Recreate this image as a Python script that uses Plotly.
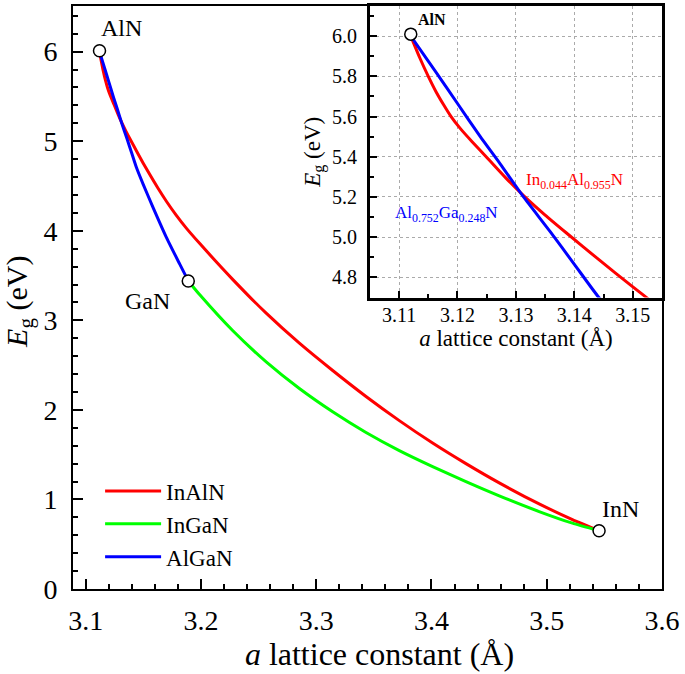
import plotly.graph_objects as go

# ---------------- data ----------------
# InAlN  (lattice constant a in Å, band gap Eg in eV)
inaln_a = [3.1120, 3.1135, 3.1150, 3.1163, 3.1176, 3.1189, 3.1205, 3.1225, 3.1253,
           3.1283, 3.1313, 3.1350, 3.1386, 3.1442, 3.1499, 3.1555, 3.1625, 3.1700,
           3.1785, 3.1873, 3.1988, 3.2277, 3.2566, 3.2854, 3.3143, 3.3432, 3.3721,
           3.4010, 3.4299, 3.4588, 3.4934, 3.5223, 3.5454]
inaln_eg = [6.000, 5.895, 5.800, 5.725, 5.660, 5.600, 5.540, 5.475, 5.388,
            5.294, 5.207, 5.110, 5.022, 4.888, 4.755, 4.630, 4.480, 4.330,
            4.175, 4.030, 3.860, 3.455, 3.080, 2.745, 2.440, 2.150, 1.880,
            1.630, 1.400, 1.185, 0.950, 0.775, 0.650]

# InGaN
ingan_a = [3.189, 3.1988, 3.2277, 3.2566, 3.2854, 3.3143, 3.3432, 3.3721, 3.4010,
           3.4299, 3.4588, 3.4934, 3.5223, 3.5454]
ingan_eg = [3.44, 3.288, 2.883, 2.536, 2.239, 1.979, 1.748, 1.546, 1.367,
            1.199, 1.040, 0.865, 0.735, 0.65]

# AlGaN
algan_a = [3.112, 3.1161, 3.120, 3.1239, 3.1273, 3.1313, 3.1358, 3.140, 3.1442,
           3.150, 3.1583, 3.1699, 3.1815, 3.189]
algan_eg = [6.00, 5.83, 5.665, 5.50, 5.365, 5.20, 5.03, 4.865, 4.70,
            4.515, 4.265, 3.93, 3.63, 3.44]

# binary end points
bin_names = ["AlN", "GaN", "InN"]
bin_a = [3.112, 3.189, 3.5454]
bin_eg = [6.01, 3.44, 0.65]

# tick values
main_x_ticks = [3.1, 3.2, 3.3, 3.4, 3.5, 3.6]
main_y_ticks = [0, 1, 2, 3, 4, 5, 6]
inset_x_ticks = [3.11, 3.12, 3.13, 3.14, 3.15]
inset_y_ticks = [4.8, 5.0, 5.2, 5.4, 5.6, 5.8, 6.0]

RED = "#ff0000"
GREEN = "#00ff00"
BLUE = "#0000ff"
FONT = "Liberation Serif, Times New Roman, DejaVu Serif, serif"

LINE = dict(width=3, shape="spline", smoothing=0.5)

fig = go.Figure()

# main curves
fig.add_trace(go.Scatter(x=inaln_a, y=inaln_eg, mode="lines", name="InAlN",
                         line=dict(color=RED, **LINE)))
fig.add_trace(go.Scatter(x=ingan_a, y=ingan_eg, mode="lines", name="InGaN",
                         line=dict(color=GREEN, **LINE)))
fig.add_trace(go.Scatter(x=algan_a, y=algan_eg, mode="lines", name="AlGaN",
                         line=dict(color=BLUE, **LINE)))
fig.add_trace(go.Scatter(x=bin_a, y=bin_eg, mode="markers", showlegend=False,
                         marker=dict(symbol="circle", size=12, color="white",
                                     line=dict(color="black", width=1.5))))

# inset curves
fig.add_trace(go.Scatter(x=inaln_a, y=inaln_eg, mode="lines", showlegend=False,
                         xaxis="x2", yaxis="y2", line=dict(color=RED, **LINE)))
fig.add_trace(go.Scatter(x=algan_a, y=algan_eg, mode="lines", showlegend=False,
                         xaxis="x2", yaxis="y2", line=dict(color=BLUE, **LINE)))
fig.add_trace(go.Scatter(x=bin_a[:1], y=bin_eg[:1], mode="markers", showlegend=False,
                         xaxis="x2", yaxis="y2",
                         marker=dict(symbol="circle", size=12, color="white",
                                     line=dict(color="black", width=1.5))))

axis_common = dict(showline=True, linecolor="black", mirror=True, ticks="inside",
                   tickcolor="black", showgrid=False, zeroline=False)

fig.update_layout(
    width=685, height=674,
    margin=dict(l=73, r=23, t=3, b=85),
    paper_bgcolor="white", plot_bgcolor="white",
    font=dict(family=FONT, color="black"),
    xaxis=dict(**axis_common, domain=[0, 1], range=[3.089, 3.6],
               tickvals=main_x_ticks, tickformat=".1f", linewidth=2,
               ticklen=10, tickwidth=2, tickfont=dict(family=FONT, size=28),
               ticklabelstandoff=5,
               minor=dict(dtick=0.02, tick0=3.1, ticks="inside", ticklen=5,
                          tickwidth=1.5, tickcolor="black"),
               title=dict(text="&nbsp;&nbsp;&nbsp;<i>a</i> lattice constant (Å)",
                          font=dict(family=FONT, size=32), standoff=6)),
    yaxis=dict(**axis_common, domain=[0, 1], range=[0, 6.51],
               tickvals=main_y_ticks, linewidth=2,
               ticklen=10, tickwidth=2, tickfont=dict(family=FONT, size=28),
               ticklabelstandoff=8,
               minor=dict(dtick=0.2, tick0=0, ticks="inside", ticklen=5,
                          tickwidth=1.5, tickcolor="black"),
               title=dict(text="<i>E</i><sub>g</sub> (eV)&nbsp;",
                          font=dict(family=FONT, size=30), standoff=10)),
    xaxis2=dict(showline=True, linecolor="black", mirror=True, ticks="inside",
                tickcolor="black", zeroline=False,
                domain=[0.504, 1], anchor="y2", range=[3.105, 3.155],
                tickvals=inset_x_ticks, tickformat=".2f", linewidth=2.5,
                ticklen=7, tickwidth=2, tickfont=dict(family=FONT, size=20),
                ticklabelstandoff=-2,
                showgrid=True, gridcolor="#aaaaaa", griddash="dot", gridwidth=1,
                minor=dict(dtick=0.005, tick0=3.11, ticks="inside", ticklen=4,
                           tickwidth=1.5, tickcolor="black", showgrid=False),
                title=dict(text="<i>a</i> lattice constant (Å)",
                           font=dict(family=FONT, size=23), standoff=4)),
    yaxis2=dict(showline=True, linecolor="black", mirror=True, ticks="inside",
                tickcolor="black", zeroline=False,
                domain=[0.5, 1], anchor="x2", range=[4.70, 6.15],
                tickvals=inset_y_ticks, tickformat=".1f", linewidth=2.5,
                ticklen=7, tickwidth=2, tickfont=dict(family=FONT, size=20),
                ticklabelstandoff=6,
                showgrid=True, gridcolor="#aaaaaa", griddash="dot", gridwidth=1,
                minor=dict(dtick=0.1, tick0=4.8, ticks="inside", ticklen=4,
                           tickwidth=1.5, tickcolor="black", showgrid=False),
                title=dict(text="<i>E</i><sub>g</sub> (eV)",
                           font=dict(family=FONT, size=23), standoff=6)),
    legend=dict(x=0.046, y=0.205, xanchor="left", yanchor="top",
                bgcolor="rgba(0,0,0,0)", font=dict(family=FONT, size=23),
                tracegroupgap=0, itemwidth=56),
    showlegend=True,
)

# labels of binary compounds (main)
shifts = {"AlN": (22, 23), "GaN": (-41, -20), "InN": (21, 22)}
for n, a, e in zip(bin_names, bin_a, bin_eg):
    dx, dy = shifts[n]
    fig.add_annotation(x=a, y=e, xref="x", yref="y", text=n, showarrow=False,
                       xshift=dx, yshift=dy,
                       font=dict(family=FONT, size=24, color="black"))

# inset labels
fig.add_annotation(x=bin_a[0], y=bin_eg[0], xref="x2", yref="y2", text="<b>AlN</b>",
                   showarrow=False, xshift=21, yshift=15,
                   font=dict(family=FONT, size=16, color="black"))
fig.add_annotation(x=3.1313, y=5.28, xref="x2", yref="y2",
                   text="In<sub>0.044</sub>Al<sub>0.955</sub>N", showarrow=False,
                   xanchor="left", yanchor="middle",
                   font=dict(family=FONT, size=17, color=RED))
fig.add_annotation(x=3.1090, y=5.115, xref="x2", yref="y2",
                   text="Al<sub>0.752</sub>Ga<sub>0.248</sub>N", showarrow=False,
                   xanchor="left", yanchor="middle",
                   font=dict(family=FONT, size=17, color=BLUE))

fig.write_html("out.html",
               config={"displayModeBar": False},
               post_script="document.body.style.margin='0px';"
                           "document.body.style.overflow='hidden';")
